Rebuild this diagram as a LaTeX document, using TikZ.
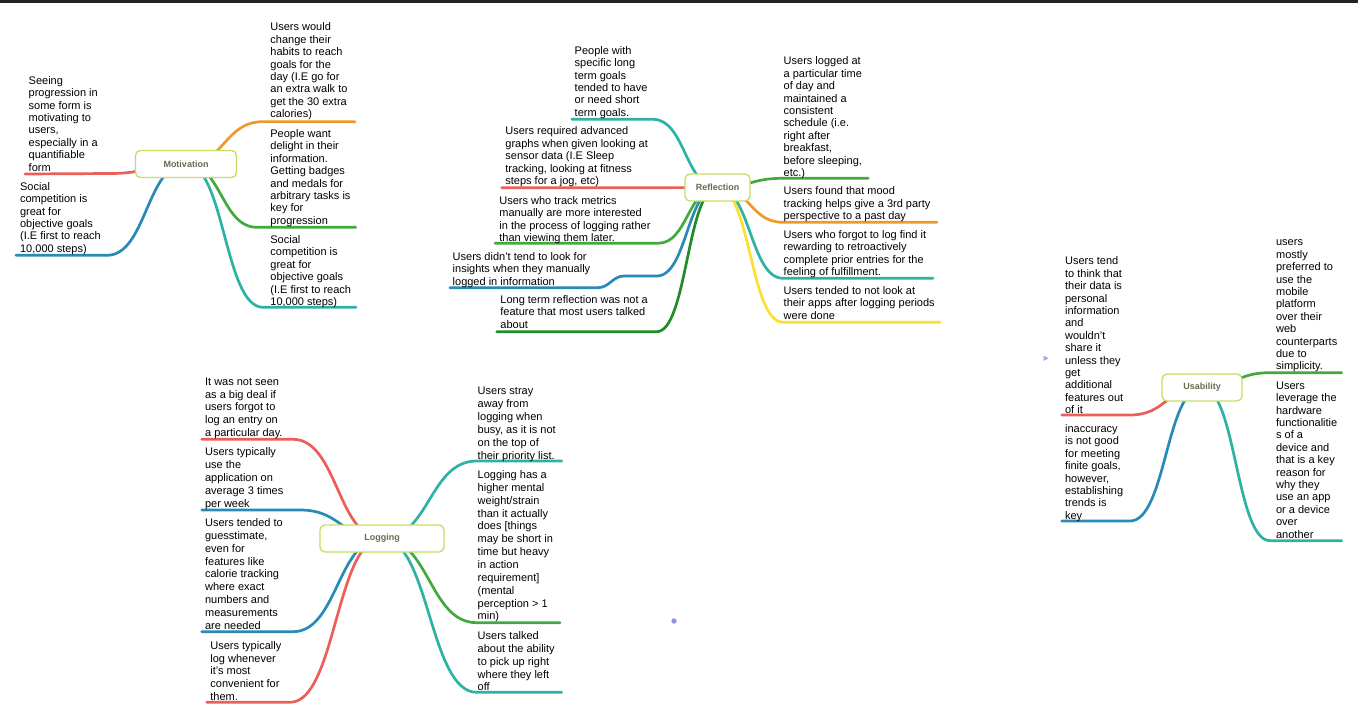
\documentclass[tikz,border=0pt]{standalone}
\usepackage{fontspec}
\setmainfont{Liberation Sans}
\usetikzlibrary{calc}

\definecolor{brRed}{RGB}{236,94,90}
\definecolor{brOrange}{RGB}{238,154,38}
\definecolor{brGreen}{RGB}{66,170,60}
\definecolor{brTeal}{RGB}{46,178,164}
\definecolor{brBlue}{RGB}{40,138,182}
\definecolor{brDarkGreen}{RGB}{34,140,40}
\definecolor{brYellow}{RGB}{250,224,52}
\definecolor{hubBorder}{RGB}{196,222,96}
\definecolor{hubText}{RGB}{98,110,78}
\definecolor{topBar}{RGB}{34,34,34}
\definecolor{marker}{RGB}{140,146,232}

\pgfdeclarelayer{back}
\pgfdeclarelayer{lines}
\pgfsetlayers{back,lines,main}

% S-shaped branch from a hub centre to the start of an underline, then along it
\newcommand{\mmbranch}[4]{%
  \draw[#1] let \p1=(#2.center), \p2=(#3) in
    (\p1) .. controls ({(\x1+\x2)/2},\y1) and ({(\x1+\x2)/2},\y2) .. (\p2) -- (#4);}

\begin{document}
\begin{tikzpicture}[x=1pt,y=-1pt,
  hub/.style={draw=hubBorder, line width=1.3pt, fill=white, rounded corners=5pt,
    minimum height=27pt, inner sep=0pt, text=hubText,
    font=\fontsize{9}{10}\selectfont\bfseries},
  notebase/.style={anchor=north west, inner sep=0pt, align=left},
  note/.style={notebase, yshift=4.68pt, font=\fontsize{11}{12.4}\selectfont},
  lognote/.style={notebase, yshift=5pt, font=\fontsize{11}{12.85}\selectfont},
  br/.style={line width=2.7pt, line cap=round, line join=round},
  red/.style={br, brRed}, orange/.style={br, brOrange}, green/.style={br, brGreen},
  teal/.style={br, brTeal}, blue/.style={br, brBlue}, dkgreen/.style={br, brDarkGreen},
  yellow/.style={br, brYellow}]

\begin{pgfonlayer}{back}
  \fill[white] (0,0) rectangle (1358,720);
  \fill[topBar] (0,0) rectangle (1358,3);
\end{pgfonlayer}
\useasboundingbox (0,0) rectangle (1358,720);

% ---------- hubs ----------
\node[hub, minimum width=101pt] (mot)  at (186,164)     {Motivation};
\node[hub, minimum width=65pt]  (refl) at (717.5,187.5) {Reflection};
\node[hub, minimum width=124pt] (logg) at (382,538.5)   {Logging};
\node[hub, minimum width=80pt]  (usab) at (1202,387.5)  {Usability};

% ---------- Motivation ----------
\node[note] (m1t) at (270.2,26.7) {\strut Users would\\change their\\habits to reach\\goals for the\\day (I.E go for\\an extra walk to\\get the 30 extra\\calories)};
\node[note] (m2t) at (270.2,133.3) {\strut People want\\delight in their\\information.\\Getting badges\\and medals for\\arbitrary tasks is\\key for\\progression};
\node[note] (m3t) at (270.2,239.3) {\strut Social\\competition is\\great for\\objective goals\\(I.E first to reach\\10,000 steps)};
\node[note] (m4t) at (28.5,80) {\strut Seeing\\progression in\\some form is\\motivating to\\users,\\especially in a\\quantifiable\\form};
\node[note] (m5t) at (19.9,186) {\strut Social\\competition is\\great for\\objective goals\\(I.E first to reach\\10,000 steps)};

\coordinate (m1s) at (263,121.7);   \coordinate (m1e) at (355,121.7);
\coordinate (m2s) at (257,227.3);   \coordinate (m2e) at (355.7,227.3);
\coordinate (m3s) at (263,307.3);   \coordinate (m3e) at (356,307.3);
\coordinate (m4s) at (110,173.5);   \coordinate (m4e) at (25,174);
\coordinate (m5s) at (107,255.3);   \coordinate (m5e) at (16,255.3);

% ---------- Reflection ----------
\node[note] (r1t) at (574.5,50) {\strut People with\\specific long\\term goals\\tended to have\\or need short\\term goals.};
\node[note] (r2t) at (505.2,130.7) {\strut Users required advanced\\graphs when given looking at\\sensor data (I.E Sleep\\tracking, looking at fitness\\steps for a jog, etc)};
\node[note] (r3t) at (499.2,200) {\strut Users who track metrics\\manually are more interested\\in the process of logging rather\\than viewing them later.};
\node[note] (r4t) at (452.5,256) {\strut Users didn’t tend to look for\\insights when they manually\\logged in information};
\node[note] (r5t) at (500.2,299.3) {\strut Long term reflection was not a\\feature that most users talked\\about};
\node[note] (r6t) at (783.5,60.7) {\strut Users logged at\\a particular time\\of day and\\maintained a\\consistent\\schedule (i.e.\\right after\\breakfast,\\before sleeping,\\etc.)};
\node[note] (r7t) at (783.5,190.7) {\strut Users found that mood\\tracking helps give a 3rd party\\perspective to a past day};
\node[note] (r8t) at (783.5,234) {\strut Users who forgot to log find it\\rewarding to retroactively\\complete prior entries for the\\feeling of fulfillment.};
\node[note] (r9t) at (783.5,290) {\strut Users tended to not look at\\their apps after logging periods\\were done};

\coordinate (r1s) at (653,119.3);   \coordinate (r1e) at (571.7,119.3);
\coordinate (r2s) at (655,187.7);   \coordinate (r2e) at (501.7,187.7);
\coordinate (r3s) at (658,243.3);   \coordinate (r3e) at (495,243.3);
\coordinate (r4s) at (656.7,276);   \coordinate (r4b) at (624,276);
\coordinate (r4c) at (598,287.7);   \coordinate (r4e) at (450,287.7);
\coordinate (r5s) at (656.7,331.7); \coordinate (r5e) at (496.7,331.7);
\coordinate (r6s) at (783,178.3);   \coordinate (r6e) at (868.3,178.3);
\coordinate (r7s) at (783,222.3);   \coordinate (r7e) at (937,222.3);
\coordinate (r8s) at (783,278.3);   \coordinate (r8e) at (933,278.3);
\coordinate (r9s) at (783,322.3);   \coordinate (r9e) at (940,322.3);

% ---------- Logging ----------
\node[lognote] (l1t) at (204.9,381) {\strut It was not seen\\as a big deal if\\users forgot to\\log an entry on\\a particular day.};
\node[lognote] (l2t) at (204.9,451.7) {\strut Users typically\\use the\\application on\\average 3 times\\per week};
\node[lognote] (l3t) at (204.9,522.3) {\strut Users tended to\\guesstimate,\\even for\\features like\\calorie tracking\\where exact\\numbers and\\measurements\\are needed};
\node[lognote] (l4t) at (210.2,645) {\strut Users typically\\log whenever\\it’s most\\convenient for\\them.};
\node[lognote] (l5t) at (477.5,390.7) {\strut Users stray\\away from\\logging when\\busy, as it is not\\on the top of\\their priority list.};
\node[lognote] (l6t) at (477.5,474.3) {\strut Logging has a\\higher mental\\weight/strain\\than it actually\\does [things\\may be short in\\time but heavy\\in action\\requirement]\\(mental\\perception > 1\\min)};
\node[lognote] (l7t) at (477.5,635.3) {\strut Users talked\\about the ability\\to pick up right\\where they left\\off};

\coordinate (l1s) at (293,439.3);   \coordinate (l1e) at (201.7,439.3);
\coordinate (l2s) at (300,510);     \coordinate (l2e) at (201.7,510);
\coordinate (l3s) at (293,631.7);   \coordinate (l3e) at (201.7,631.7);
\coordinate (l4s) at (290,702.3);   \coordinate (l4e) at (206.7,702.3);
\coordinate (l5s) at (476.7,461);   \coordinate (l5e) at (561.7,461);
\coordinate (l6s) at (476.7,622.7); \coordinate (l6e) at (560,622.7);
\coordinate (l7s) at (476.7,692.3); \coordinate (l7e) at (561.7,692.3);

% ---------- Usability ----------
\node[note] (u1t) at (1064.9,260.7) {\strut Users tend\\to think that\\their data is\\personal\\information\\and\\wouldn’t\\share it\\unless they\\get\\additional\\features out\\of it};
\node[note] (u2t) at (1064.9,428.3) {\strut inaccuracy\\is not good\\for meeting\\finite goals,\\however,\\establishing\\trends is\\key};
\node[note] (u3t) at (1275.9,241.7) {\strut users\\mostly\\preferred to\\use the\\mobile\\platform\\over their\\web\\counterparts\\due to\\simplicity.};
\node[note] (u4t) at (1275.9,385) {\strut Users\\leverage the\\hardware\\functionalitie\\s of a\\device and\\that is a key\\reason for\\why they\\use an app\\or a device\\over\\another};

\coordinate (u1s) at (1130,415);    \coordinate (u1e) at (1061.7,415);
\coordinate (u2s) at (1130,521);    \coordinate (u2e) at (1061.7,521);
\coordinate (u3s) at (1270,372.7);  \coordinate (u3e) at (1341.7,372.7);
\coordinate (u4s) at (1270,540.7);  \coordinate (u4e) at (1341.7,540.7);

% ---------- branches ----------
\begin{pgfonlayer}{lines}
  \mmbranch{orange}{mot}{m1s}{m1e}
  \mmbranch{green}{mot}{m2s}{m2e}
  \mmbranch{teal}{mot}{m3s}{m3e}
  \mmbranch{red}{mot}{m4s}{m4e}
  \mmbranch{blue}{mot}{m5s}{m5e}

  \mmbranch{teal}{refl}{r1s}{r1e}
  \mmbranch{red}{refl}{r2s}{r2e}
  \mmbranch{green}{refl}{r3s}{r3e}
  \draw[blue] let \p1=(refl.center), \p2=(r4s) in
    (\p1) .. controls ({(\x1+\x2)/2},\y1) and ({(\x1+\x2)/2},\y2) .. (\p2)
    -- (r4b) to[out=180,in=0] (r4c) -- (r4e);
  \mmbranch{dkgreen}{refl}{r5s}{r5e}
  \mmbranch{green}{refl}{r6s}{r6e}
  \mmbranch{orange}{refl}{r7s}{r7e}
  \mmbranch{teal}{refl}{r8s}{r8e}
  \mmbranch{yellow}{refl}{r9s}{r9e}

  \mmbranch{red}{logg}{l1s}{l1e}
  \mmbranch{blue}{logg}{l2s}{l2e}
  \mmbranch{blue}{logg}{l3s}{l3e}
  \mmbranch{red}{logg}{l4s}{l4e}
  \mmbranch{teal}{logg}{l5s}{l5e}
  \mmbranch{green}{logg}{l6s}{l6e}
  \mmbranch{teal}{logg}{l7s}{l7e}

  \mmbranch{red}{usab}{u1s}{u1e}
  \mmbranch{blue}{usab}{u2s}{u2e}
  \mmbranch{green}{usab}{u3s}{u3e}
  \mmbranch{teal}{usab}{u4s}{u4e}
\end{pgfonlayer}

% small markers
\fill[marker] (674,621) circle (2.7);
\fill[marker!80] (1043.5,355.5) -- (1048.5,358.3) -- (1043.5,361) -- cycle;

\end{tikzpicture}
\end{document}
